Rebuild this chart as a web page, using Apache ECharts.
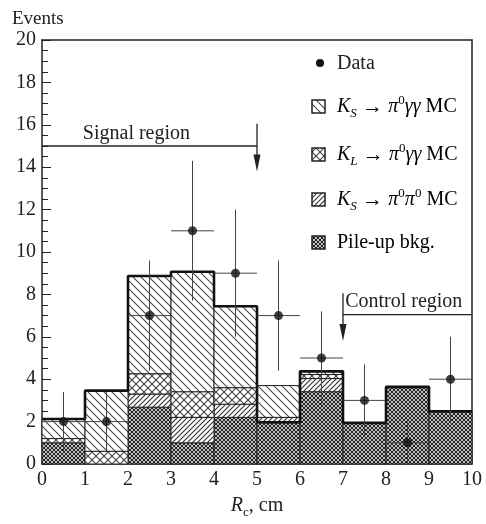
<!DOCTYPE html>
<html><head><meta charset="utf-8">
<script src="https://cdn.jsdelivr.net/npm/echarts@6/dist/echarts.min.js"></script>
<style>html,body{margin:0;padding:0;background:#fff}#c{width:486px;height:524px}</style>
</head><body><div id="c"></div>
<script>
// ---- data ----
const binEdges = [0, 1, 2, 3, 4, 5, 6, 7, 8, 9, 10];
const pileUp   = [1.00, 0.00, 2.68, 1.00, 2.20, 1.95, 3.41, 1.94, 3.64, 2.48];
const ksPi0Pi0 = [0.00, 0.00, 0.62, 1.20, 0.62, 0.25, 0.62, 0.00, 0.00, 0.00];
const klPi0gg  = [0.20, 0.60, 0.96, 1.21, 0.78, 0.00, 0.19, 0.00, 0.00, 0.00];
const ksPi0gg  = [0.92, 2.86, 4.61, 5.66, 3.84, 1.50, 0.15, 0.00, 0.00, 0.00];
const outline  = [2.12, 3.46, 8.87, 9.07, 7.44, 1.97, 4.37, 1.94, 3.64, 2.48];
const dataX    = [0.5, 1.5, 2.5, 3.5, 4.5, 5.5, 6.5, 7.5, 8.5, 9.5];
const dataY    = [2, 2, 7, 11, 9, 7, 5, 3, 1, 4];
const errUp    = [1.4, 1.4, 2.6, 3.3, 3.0, 2.6, 2.2, 1.7, 1.0, 2.0];
const errDown  = [1.4, 1.4, 2.6, 3.3, 3.0, 2.6, 2.2, 1.7, 1.0, 2.0];
const xTickLabels = ['0','1','2','3','4','5','6','7','8','9','10'];
const yTickLabels = ['0','2','4','6','8','10','12','14','16','18','20'];
const signalRegion  = {label: 'Signal region',  xFrom: 0, xTo: 5,  y: 15,   arrowTop: 16.05, arrowTip: 13.8, labelX: 0.95, labelY: 15.58};
const controlRegion = {label: 'Control region', xFrom: 7, xTo: 10, y: 7.05, arrowTop: 8.06,  arrowTip: 5.8,  labelX: 7.05, labelY: 7.63};

// ---- styling ----
const FONT = "'Liberation Serif','Times New Roman',serif";
function makePattern(size, dirs, color, lw) {
  const c = document.createElement('canvas'); c.width = c.height = size;
  const g = c.getContext('2d');
  g.fillStyle = '#fff'; g.fillRect(0, 0, size, size);
  g.strokeStyle = color; g.lineWidth = lw;
  dirs.forEach(d => {
    g.beginPath();
    if (d === '/') {
      g.moveTo(-1, size + 1); g.lineTo(size + 1, -1);
      g.moveTo(-1, 1); g.lineTo(1, -1);
      g.moveTo(size - 1, size + 1); g.lineTo(size + 1, size - 1);
    } else {
      g.moveTo(-1, -1); g.lineTo(size + 1, size + 1);
      g.moveTo(size - 1, -1); g.lineTo(size + 1, 1);
      g.moveTo(-1, size - 1); g.lineTo(1, size + 1);
    }
    g.stroke();
  });
  return {image: c, repeat: 'repeat'};
}
const patPile = makePattern(4, ['/', '\\'], '#1e1e1e', 1.1);
const patPiPi = makePattern(5, ['/'], '#333', 1.1);
const patKL   = makePattern(8, ['/', '\\'], '#444', 1.1);
const patKSgg = makePattern(8, ['\\'], '#4a4a4a', 1.1);

const layers = [
  {name: 'Pile-up bkg.', values: pileUp, pat: patPile},
  {name: 'KS pi0pi0', values: ksPi0Pi0, pat: patPiPi},
  {name: 'KL pi0gg', values: klPi0gg, pat: patKL},
  {name: 'KS pi0gg', values: ksPi0gg, pat: patKSgg}
];
const base = pileUp.map(() => 0);
const layerSeries = layers.map(L => {
  const data = L.values.map((v, i) => [binEdges[i], binEdges[i + 1], base[i], base[i] + v]);
  L.values.forEach((v, i) => { base[i] += v; });
  return {
    type: 'custom', name: L.name, z: 2, data,
    encode: {x: [0, 1], y: [2, 3]},
    renderItem(params, api) {
      const y0 = api.value(2), y1 = api.value(3);
      if (y1 - y0 <= 0) return {type: 'group', children: []};
      const a = api.coord([api.value(0), y1]);
      const b = api.coord([api.value(1), y0]);
      return {type: 'rect', shape: {x: a[0], y: a[1], width: b[0] - a[0], height: b[1] - a[1]},
        style: {fill: L.pat, stroke: '#222', lineWidth: 1}};
    }
  };
});

const outlineData = outline.map((v, i) => [binEdges[i], v]);
outlineData.push([binEdges[binEdges.length - 1], outline[outline.length - 1]]);

const richBase = {
  n: {fontFamily: FONT, fontSize: 20, color: '#222', lineHeight: 26},
  i: {fontFamily: FONT, fontSize: 20, fontStyle: 'italic', color: '#222', lineHeight: 26},
  sub: {fontFamily: FONT, fontSize: 13, fontStyle: 'italic', color: '#222', lineHeight: 13, verticalAlign: 'bottom'},
  subn: {fontFamily: FONT, fontSize: 13, color: '#222', lineHeight: 13, verticalAlign: 'bottom'},
  sup: {fontFamily: FONT, fontSize: 13, color: '#222', lineHeight: 13, verticalAlign: 'top'},
  ar: {fontFamily: FONT, fontSize: 21, color: '#222', lineHeight: 26}
};

function regionAnno(R, api) {
  const h0 = api.coord([R.xFrom, R.y]);
  const h1 = api.coord([R.xTo, R.y]);
  const vTop = api.coord([R.xFrom === 0 ? R.xTo : R.xFrom, R.arrowTop]);
  const vTip = api.coord([R.xFrom === 0 ? R.xTo : R.xFrom, R.arrowTip]);
  const headH = 17, headW = 3.5;
  const lab = api.coord([R.labelX, R.labelY]);
  return [
    {type: 'line', shape: {x1: h0[0], y1: h0[1], x2: h1[0], y2: h1[1]}, style: {stroke: '#222', lineWidth: 1.3}},
    {type: 'line', shape: {x1: vTop[0], y1: vTop[1], x2: vTip[0], y2: vTip[1] - headH + 2}, style: {stroke: '#222', lineWidth: 1.3}},
    {type: 'polygon', shape: {points: [[vTip[0], vTip[1]], [vTip[0] - headW, vTip[1] - headH], [vTip[0] + headW, vTip[1] - headH]]}, style: {fill: '#222'}},
    {type: 'text', x: lab[0], y: lab[1], style: {text: R.label, font: '20px ' + FONT, fill: '#222', align: 'left', verticalAlign: 'middle', textAlign: 'left', textVerticalAlign: 'middle'}}
  ];
}

const legendItems = [
  {pat: patKSgg, text: '{i|K}{sub|S}{ar| → }{i|π}{sup|0}{i|γγ}{n| MC}'},
  {pat: patKL,   text: '{i|K}{sub|L}{ar| → }{i|π}{sup|0}{i|γγ}{n| MC}'},
  {pat: patPiPi, text: '{i|K}{sub|S}{ar| → }{i|π}{sup|0}{i|π}{sup|0}{n| MC}'},
  {pat: patPile, text: '{n|Pile-up bkg.}'}
];
const legendYs = [107, 155, 200, 243];
const legendEls = [
  {type: 'circle', shape: {cx: 320, cy: 63, r: 4}, style: {fill: '#111'}},
  {type: 'text', x: 337, y: 64, style: {text: 'Data', font: '20px ' + FONT, fill: '#222', verticalAlign: 'middle', textVerticalAlign: 'middle'}}
];
legendItems.forEach((it, k) => {
  const cy = legendYs[k];
  legendEls.push({type: 'rect', shape: {x: 312, y: cy - 7, width: 13, height: 13}, style: {fill: it.pat, stroke: '#222', lineWidth: 1.5}});
  legendEls.push({type: 'text', x: 337, y: cy, style: {text: it.text, rich: richBase, verticalAlign: 'middle', textVerticalAlign: 'middle'}});
});

const chart = echarts.init(document.getElementById('c'), null, {renderer: 'canvas'});
chart.setOption({
  animation: false,
  backgroundColor: '#fff',
  title: {text: 'Events', left: 7, top: 5, textStyle: {fontFamily: FONT, fontSize: 19, fontWeight: 'normal', color: '#222'}},
  grid: {left: 42, right: 14, top: 40, bottom: 54},
  xAxis: [{
    type: 'value', min: 0, max: 10, interval: 1,
    axisLine: {onZero: false, lineStyle: {color: '#222', width: 1.5}},
    axisTick: {show: false}, splitLine: {show: false},
    axisLabel: {margin: 6, fontFamily: FONT, fontSize: 20, color: '#222', formatter: v => xTickLabels[Math.round(v)]},
    name: '{i|R}{subn|c}{n|, cm}', nameLocation: 'middle', nameGap: 29,
    nameTextStyle: {rich: richBase}
  }, {
    type: 'value', position: 'top', min: 0, max: 10,
    axisLine: {show: true, onZero: false, lineStyle: {color: '#222', width: 1.5}},
    axisTick: {show: false}, axisLabel: {show: false}, splitLine: {show: false}
  }],
  yAxis: [{
    type: 'value', min: 0, max: 20, interval: 2,
    axisLine: {show: true, onZero: false, lineStyle: {color: '#222', width: 1.5}},
    axisTick: {inside: true, length: 9, lineStyle: {color: '#222', width: 1}},
    minorTick: {show: true, splitNumber: 4, length: 6, lineStyle: {color: '#222', width: 1}},
    splitLine: {show: false}, minorSplitLine: {show: false},
    axisLabel: {margin: 6, fontFamily: FONT, fontSize: 20, color: '#222', formatter: v => yTickLabels[Math.round(v / 2)]}
  }, {
    type: 'value', position: 'right', min: 0, max: 20,
    axisLine: {show: true, onZero: false, lineStyle: {color: '#222', width: 1.5}},
    axisTick: {show: false}, axisLabel: {show: false}, splitLine: {show: false}
  }],
  graphic: legendEls,
  series: [
    ...layerSeries,
    {type: 'line', name: 'Total', data: outlineData, step: 'end', symbol: 'none', z: 4,
      lineStyle: {color: '#111', width: 2.6}},
    {type: 'custom', name: 'Data errors', z: 6,
      data: dataX.map((x, i) => [x, dataY[i], dataY[i] - errDown[i], dataY[i] + errUp[i]]),
      encode: {x: 0, y: [1, 2, 3]},
      renderItem(params, api) {
        const x = api.value(0), y = api.value(1);
        const lo = api.coord([x, api.value(2)]), hi = api.coord([x, api.value(3)]);
        const l = api.coord([x - 0.5, y]), r = api.coord([x + 0.5, y]);
        return {type: 'group', children: [
          {type: 'line', shape: {x1: lo[0], y1: lo[1], x2: hi[0], y2: hi[1]}, style: {stroke: '#444', lineWidth: 1}},
          {type: 'line', shape: {x1: l[0], y1: l[1], x2: r[0], y2: r[1]}, style: {stroke: '#444', lineWidth: 1}}
        ]};
      }
    },
    {type: 'scatter', name: 'Data', z: 7, symbol: 'circle', symbolSize: 9,
      itemStyle: {color: '#111'}, data: dataX.map((x, i) => [x, dataY[i]])},
    {type: 'custom', name: 'Regions', z: 6, data: [[0, 0]],
      renderItem(params, api) {
        return {type: 'group', children: [...regionAnno(signalRegion, api), ...regionAnno(controlRegion, api)]};
      }
    }
  ]
});
</script>
</body></html>
